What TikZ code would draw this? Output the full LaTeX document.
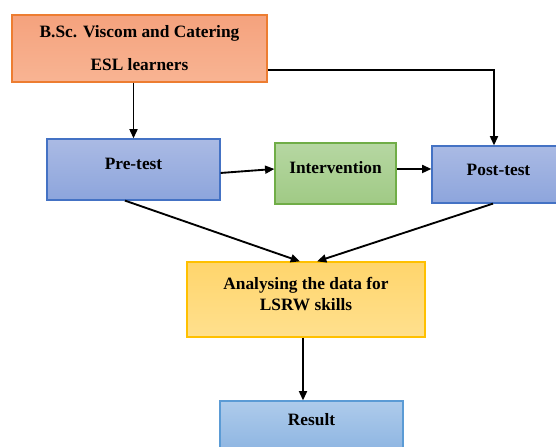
\documentclass[tikz,border=0pt]{standalone}
\usepackage{fontspec}
\setmainfont{Liberation Serif}
\usetikzlibrary{positioning,arrows.meta}

\definecolor{orangeline}{HTML}{ED7D31}
\definecolor{orangetop}{HTML}{F5A27D}
\definecolor{orangebot}{HTML}{F8B493}
\definecolor{blueline}{HTML}{4472C4}
\definecolor{bluetop}{HTML}{AABAE4}
\definecolor{bluebot}{HTML}{8DA5DC}
\definecolor{greenline}{HTML}{70AD47}
\definecolor{greentop}{HTML}{B6D7A2}
\definecolor{greenbot}{HTML}{A0CA85}
\definecolor{yellowline}{HTML}{FFC000}
\definecolor{yellowtop}{HTML}{FFD56C}
\definecolor{yellowbot}{HTML}{FFE08E}
\definecolor{skyline}{HTML}{5B9BD5}
\definecolor{skytop}{HTML}{AECBEB}
\definecolor{skybot}{HTML}{8FB6E2}

\begin{document}
\begin{tikzpicture}[x=0.75pt, y=-0.75pt,
                    box/.style={draw, line width=0.9pt, inner sep=0pt},
                    orangebox/.style={box, draw=orangeline, top color=orangetop, bottom color=orangebot},
                    bluebox/.style={box, draw=blueline, top color=bluetop, bottom color=bluebot},
                    greenbox/.style={box, draw=greenline, top color=greentop, bottom color=greenbot},
                    yellowbox/.style={box, draw=yellowline, top color=yellowtop, bottom color=yellowbot},
                    skybox/.style={box, draw=skyline, top color=skytop, bottom color=skybot},
                    txt/.style={align=center, inner sep=0pt, font=\bfseries\fontsize{13}{15.75}\selectfont},
                    arrow/.style={-{Triangle[length=7pt, width=6pt]}, line width=1.4pt}]
      \useasboundingbox (0,0) rectangle (556,446);
      \node[orangebox, minimum width=191.25pt, minimum height=50.25pt] (esl) at (139.5, 48.5) {};
      \node[bluebox, minimum width=129.75pt, minimum height=45.75pt] (pre) at (133.5, 169.5) {};
      \node[greenbox, minimum width=90.75pt, minimum height=45.75pt] (inter) at (335.5, 173.5) {};
      \node[bluebox, minimum width=102pt, minimum height=42.75pt] (post) at (500, 174.5) {};
      \node[yellowbox, minimum width=178.5pt, minimum height=56.25pt] (ana) at (306, 299.5) {};
      \node[skybox, minimum width=137.25pt, minimum height=36pt] (res) at (311.5, 425) {};
      \node[txt, font=\bfseries\fontsize{13}{24.75}\selectfont] (esl_text) at (139.5, 48.5) {B.Sc. Viscom and Catering\\ESL learners};
      \node[txt] (pre_text) at (133.5, 164) {Pre-test};
      \node[txt] (inter_text) at (335.5, 168) {Intervention};
      \node[txt] (post_text) at (498.5, 170) {Post-test};
      \node[txt] (ana_text) at (306, 294.5) {Analysing the data for\\LSRW skills};
      \node[txt] (res_text) at (311.5, 420) {Result};
      \draw[arrow] (pre.north |- esl.south) -- (pre.north);
      \draw[arrow] ([yshift=-16pt]esl.east) -| ([xshift=-4.5pt]post.north);
      \draw[arrow] ([yshift=-2.6pt]pre.east) -- ([yshift=3.4pt]inter.west);
      \draw[arrow] ([yshift=3.4pt]inter.east) -- ([yshift=3.4pt]inter.east -| post.west);
      \draw[arrow] ([xshift=-6.4pt]pre.south) -- ([xshift=-4.5pt]ana.north);
      \draw[arrow] ([xshift=-5.25pt]post.south) -- ([xshift=8.25pt]ana.north);
      \draw[arrow] ([xshift=-2.25pt]ana.south) -- ([xshift=-2.25pt]ana.south |- res.north);
    \end{tikzpicture}
\end{document}
